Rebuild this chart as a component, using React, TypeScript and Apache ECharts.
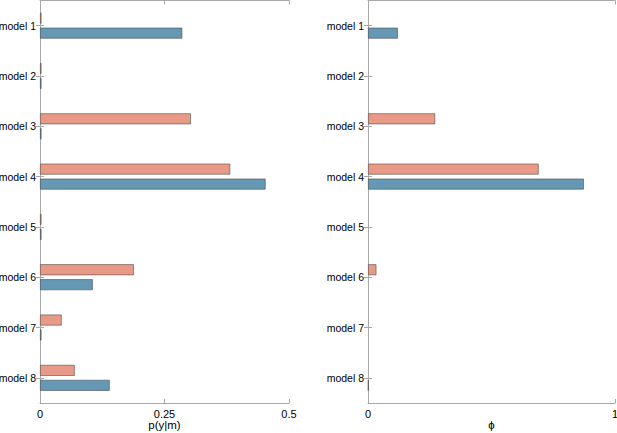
import React, { useEffect, useRef } from "react";
import * as echarts from "echarts";

const categories = ["model 1", "model 2", "model 3", "model 4", "model 5", "model 6", "model 7", "model 8"];
// left panel: p(y|m)
const leftOrange = [0.003, 0.003, 0.303, 0.382, 0.003, 0.1885, 0.0436, 0.0698];
const leftBlue = [0.2857, 0.003, 0.003, 0.453, 0.003, 0.106, 0.003, 0.14];
// right panel: phi
const rightOrange = [0, 0, 0.272, 0.691, 0, 0.034, 0, 0];
const rightBlue = [0.121, 0, 0, 0.874, 0, 0, 0, 0.002];
const leftTicks = { min: 0, max: 0.5, interval: 0.25 };
const rightTicks = { min: 0, max: 1, interval: 1 };
const leftName = "p(y|m)";
const rightName = "ϕ";

const ORANGE = "#E99A86";
const BLUE = "#6598B5";
const FRAME = "#A8A8A8";
const FONT = "Liberation Sans";

export default function App() {
  const ref = useRef<HTMLDivElement>(null);
  useEffect(() => {
    document.body.style.margin = "0";
    const chart = echarts.init(ref.current!, undefined, { renderer: "svg" });
    const grids = [
      { left: 40, top: 0.5, width: 249, height: 402.5, outerBoundsMode: "none", containLabel: false },
      { left: 368, top: 0.5, width: 247, height: 402.5, outerBoundsMode: "none", containLabel: false },
    ];
    const ticksFor = [leftTicks, rightTicks];
    const names = [leftName, rightName];
    const xAxis: any[] = [];
    const yAxis: any[] = [];
    grids.forEach((_, i) => {
      const t = ticksFor[i];
      xAxis.push({
        type: "value",
        gridIndex: i,
        position: "bottom",
        min: t.min,
        max: t.max,
        interval: t.interval,
        name: names[i],
        nameLocation: "middle",
        nameGap: 16,
        nameMoveOverlap: false,
        nameTextStyle: { color: "#000", fontSize: 11.5, fontFamily: FONT },
        axisLine: { show: true, lineStyle: { color: FRAME, width: 1 } },
        axisTick: { show: true, inside: true, length: 4, lineStyle: { color: FRAME } },
        axisLabel: { color: "#000", fontSize: 11, fontFamily: FONT, margin: 5 },
        splitLine: { show: false },
      });
      xAxis.push({
        type: "value",
        gridIndex: i,
        position: "top",
        min: t.min,
        max: t.max,
        interval: t.interval,
        axisLine: { show: true, lineStyle: { color: FRAME, width: 1 } },
        axisTick: { show: true, inside: true, length: 4, lineStyle: { color: FRAME } },
        axisLabel: { show: false },
        splitLine: { show: false },
      });
      yAxis.push({
        type: "category",
        gridIndex: i,
        position: "left",
        data: categories,
        inverse: true,
        axisLine: { show: true, lineStyle: { color: FRAME, width: 1 } },
        axisTick: { show: true, inside: true, length: 4, alignWithLabel: true, lineStyle: { color: FRAME } },
        axisLabel: { color: "#000", fontSize: 10.5, fontFamily: FONT, margin: 4 },
      });
      yAxis.push({
        type: "category",
        gridIndex: i,
        position: "right",
        data: categories,
        inverse: true,
        axisLine: { show: true, lineStyle: { color: FRAME, width: 1 } },
        axisTick: { show: true, inside: true, length: 4, alignWithLabel: true, lineStyle: { color: FRAME } },
        axisLabel: { show: false },
      });
    });
    const mk = (name: string, data: number[], color: string, i: number) => ({
      name,
      type: "bar",
      xAxisIndex: i * 2,
      yAxisIndex: i * 2,
      data: data.map((v) => (v === 0 ? { value: 0, itemStyle: { borderWidth: 0, opacity: 0 } } : v)),
      barWidth: 11,
      barGap: "36%",
      itemStyle: { color, borderColor: "rgba(60,60,60,0.75)", borderWidth: 0.7 },
    });
    chart.setOption({
      animation: false,
      backgroundColor: "#fff",
      grid: grids,
      xAxis,
      yAxis,
      series: [
        mk("orange", leftOrange, ORANGE, 0),
        mk("blue", leftBlue, BLUE, 0),
        mk("orange", rightOrange, ORANGE, 1),
        mk("blue", rightBlue, BLUE, 1),
      ],
    });
    return () => chart.dispose();
  }, []);
  return <div ref={ref} style={{ width: 617, height: 433 }} />;
}
